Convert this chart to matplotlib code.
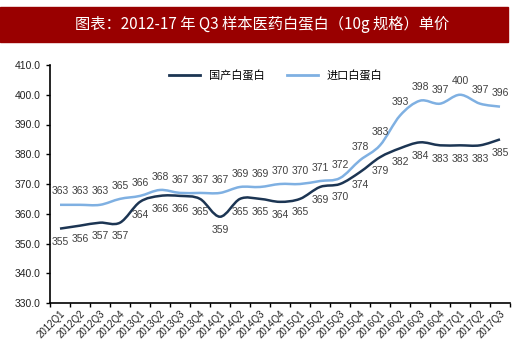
import numpy as np
import matplotlib
matplotlib.use("Agg")
import matplotlib.pyplot as plt
from matplotlib.path import Path
from matplotlib.patches import PathPatch, Rectangle
from matplotlib.lines import Line2D

plt.rcParams['font.family'] = ['Liberation Sans', 'Noto Sans CJK SC', 'DejaVu Sans']

# data
quarters = ['2012Q1', '2012Q2', '2012Q3', '2012Q4', '2013Q1', '2013Q2', '2013Q3', '2013Q4',
            '2014Q1', '2014Q2', '2014Q3', '2014Q4', '2015Q1', '2015Q2', '2015Q3', '2015Q4',
            '2016Q1', '2016Q2', '2016Q3', '2016Q4', '2017Q1', '2017Q2', '2017Q3']
domestic = [355, 356, 357, 357, 364, 366, 366, 365, 359, 365, 365, 364,
            365, 369, 370, 374, 379, 382, 384, 383, 383, 383, 385]
imported = [363, 363, 363, 365, 366, 368, 367, 367, 367, 369, 369, 370,
            370, 371, 372, 378, 383, 393, 398, 397, 400, 397, 396]

navy = '#1c3553'
light = '#7fb0e2'
grey = '#404040'


def smooth_path(xs, ys, t=1/6):
    # excel-like smoothed line drawn as bezier segments through the points
    verts = [(xs[0], ys[0])]
    codes = [Path.MOVETO]
    n = len(xs)
    for i in range(n - 1):
        x0, y0 = xs[max(i - 1, 0)], ys[max(i - 1, 0)]
        x1, y1 = xs[i], ys[i]
        x2, y2 = xs[i + 1], ys[i + 1]
        x3, y3 = xs[min(i + 2, n - 1)], ys[min(i + 2, n - 1)]
        c1 = (x1 + (x2 - x0) * t, y1 + (y2 - y0) * t)
        c2 = (x2 - (x3 - x1) * t, y2 - (y3 - y1) * t)
        verts += [c1, c2, (x2, y2)]
        codes += [Path.CURVE4] * 3
    return Path(verts, codes)


fig = plt.figure(figsize=(5.2, 3.49), dpi=100)

# title bar
fig.patches.append(Rectangle((0, 1 - 42 / 349), 508 / 520, 35 / 349,
                             transform=fig.transFigure, color='#990000', zorder=0))
fig.text(262 / 520, 1 - 24 / 349, '图表：2012-17 年 Q3 样本医药白蛋白（10g 规格）单价',
         color='white', fontsize=11, ha='center', va='center',
         family=['Noto Sans CJK SC', 'DejaVu Sans'])

ax = fig.add_axes([50 / 520, 1 - 303 / 349, 460 / 520, 238 / 349])
x = np.arange(len(quarters))

ax.add_patch(PathPatch(smooth_path(x, imported), facecolor='none', edgecolor=light, lw=1.8))
ax.add_patch(PathPatch(smooth_path(x, domestic), facecolor='none', edgecolor=navy, lw=1.8))

for i in range(len(quarters)):
    ax.annotate(str(imported[i]), (x[i], imported[i]), xytext=(0, 6), textcoords='offset points',
                ha='center', va='bottom', fontsize=7.5, color=grey)
    ax.annotate(str(domestic[i]), (x[i], domestic[i]), xytext=(0, -6), textcoords='offset points',
                ha='center', va='top', fontsize=7.5, color=grey)

ax.set_xlim(-0.5, len(quarters) - 0.5)
ax.set_ylim(330, 410)
ax.set_yticks(np.arange(330, 411, 10))
ax.set_yticklabels([f'{v:.1f}' for v in np.arange(330, 411, 10)], fontsize=7.5, color='#222222')
ax.set_xticks(x)
ax.set_xticklabels(quarters, rotation=45, ha='right', rotation_mode='anchor', fontsize=7,
                   color='#222222')
ax.set_xticks(np.arange(-0.5, len(quarters)), minor=True)
ax.tick_params(axis='x', which='major', length=0, pad=4)
ax.tick_params(axis='x', which='minor', length=3, direction='out', width=1)
ax.tick_params(axis='y', length=3, direction='out', width=1)

for s in ['top', 'right']:
    ax.spines[s].set_visible(False)
ax.spines['left'].set_linewidth(1.2)
ax.spines['bottom'].set_linewidth(1.2)

handles = [Line2D([], [], color=navy, lw=2), Line2D([], [], color=light, lw=2)]
ax.legend(handles, ['国产白蛋白', '进口白蛋白'], loc='center', bbox_to_anchor=(0.49, 0.955),
          ncol=2, frameon=False, handlelength=2.8, columnspacing=2,
          prop={'family': ['Noto Sans CJK SC', 'DejaVu Sans'], 'size': 8})

fig.savefig('out.png', dpi=100)
